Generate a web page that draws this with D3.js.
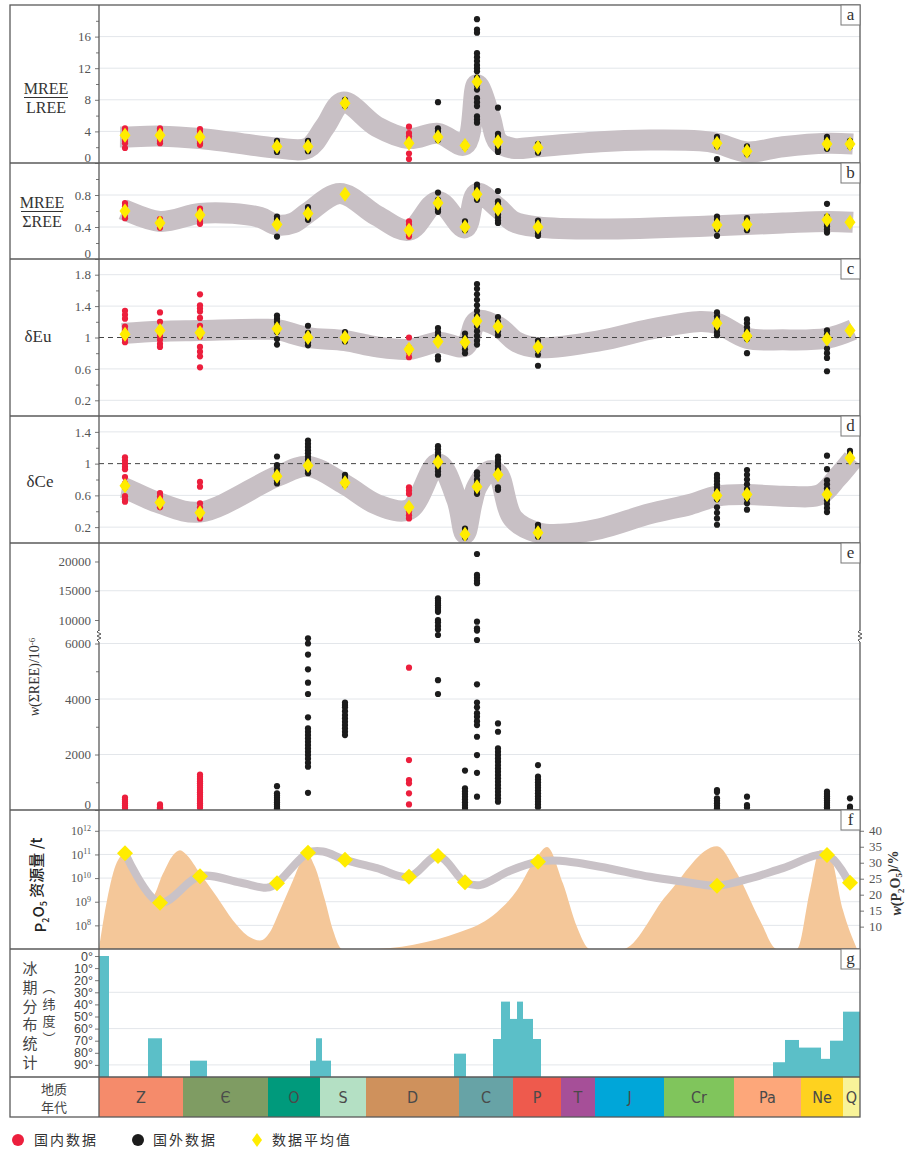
<!DOCTYPE html>
<html lang="zh">
<head>
<meta charset="UTF-8">
<title>REE 特征与磷矿资源演化</title>
<script src="https://cdn.jsdelivr.net/npm/d3@7"></script>
<style>
    html, body { margin: 0; padding: 0; background: #fff; }
    svg { display: block; }
</style>
</head>
<body>
<svg id="chart" width="911" height="1151"></svg>
<script>
// geological periods along the bottom, with their relative widths on the time axis
const periods = ["Z", "Є", "O", "S", "D", "C", "P", "T", "J", "Cr", "Pa", "Ne", "Q"];
const periodSpan = [84, 85, 52, 46, 93, 54, 48, 34, 69, 70, 67, 42, 17];

// sample groups (columns of points) and where they sit on the time axis
const groups = ["Z-1", "Z-2", "Є", "O-1", "O-2", "S", "D-1", "D-2", "C-1", "C-2", "C-3", "P", "Cr", "Pa", "Ne", "Q"];
const groupPos = [26, 61, 101, 178, 209, 246, 310, 339, 366, 378, 399, 439, 618, 648, 728, 751];
const groupSource = ["cn", "cn", "cn", "int", "int", "int", "cn", "int", "int", "int", "int", "int", "int", "int", "int", "int"];

// a: MREE/LREE
const aValues = [
    [4.4, 4.2, 4.0, 3.8, 3.6, 3.4, 3.2, 3.0, 2.8, 2.5, 1.9],
    [4.4, 4.2, 4.0, 3.7, 3.4, 3.1, 2.8, 2.5],
    [4.3, 4.0, 3.7, 3.4, 3.1, 2.8, 2.5, 2.3],
    [2.8, 2.5, 2.2, 1.9, 1.6, 1.4],
    [2.8, 2.5, 2.2, 1.9, 1.6, 1.5],
    [8.0, 7.7, 7.4, 7.2],
    [4.6, 3.8, 3.4, 2.9, 2.5, 1.2, 0.5],
    [7.7, 4.4, 4.0, 3.6, 3.2, 2.9],
    [2.4, 2.0],
    [18.2, 16.9, 16.5, 13.9, 13.4, 12.9, 12.4, 12.0, 11.6, 10.8, 9.8, 9.3, 8.2, 7.7, 7.2, 5.9, 5.5, 5.1],
    [7.0, 3.7, 3.3, 2.9, 2.5, 2.1, 1.7, 1.4],
    [2.4, 2.0, 1.6, 1.3],
    [3.3, 3.0, 2.7, 2.4, 2.1, 0.5],
    [2.1, 1.8, 1.5, 1.1],
    [3.3, 3.0, 2.7, 2.4, 2.1, 1.8],
    [2.8, 2.1]
];
const aMeans = [3.5, 3.5, 3.3, 2.1, 2.1, 7.55, 2.5, 3.3, 2.2, 10.3, 2.7, 1.95, 2.5, 1.5, 2.4, 2.4];
const aBand = [[21, 3.3], [26, 3.3], [61, 3.4], [101, 3.1], [134, 2.6], [178, 1.9], [209, 1.9], [226, 4.6], [244, 7.7],
    [278, 4.6], [310, 3.1], [339, 3.75], [366, 2.3], [378, 9.9], [391, 5.9], [399, 2.7], [414, 1.86], [439, 2.06],
    [501, 2.7], [551, 2.9], [601, 2.8], [618, 2.5], [648, 1.4], [684, 2.06], [728, 2.5], [754, 2.4]];

// b: MREE/ΣREE
const bValues = [
    [0.70, 0.66, 0.62, 0.58, 0.54, 0.51],
    [0.50, 0.46, 0.42, 0.39],
    [0.63, 0.59, 0.55, 0.51, 0.47, 0.44],
    [0.53, 0.50, 0.47, 0.28],
    [0.65, 0.61, 0.57, 0.53, 0.49],
    [],
    [0.47, 0.43, 0.39, 0.35, 0.31, 0.28],
    [0.83, 0.74, 0.70, 0.66, 0.62, 0.59],
    [0.47, 0.43, 0.39, 0.36],
    [0.93, 0.89, 0.85, 0.81, 0.77, 0.74],
    [0.85, 0.72, 0.68, 0.64, 0.60, 0.56, 0.52, 0.48, 0.45],
    [0.48, 0.44, 0.40, 0.36, 0.32, 0.29],
    [0.53, 0.49, 0.45, 0.41, 0.37, 0.29],
    [0.51, 0.47, 0.43, 0.39, 0.36],
    [0.69, 0.53, 0.49, 0.45, 0.41, 0.37, 0.33],
    [0.47, 0.45]
];
const bMeans = [0.60, 0.45, 0.55, 0.43, 0.57, 0.81, 0.36, 0.70, 0.40, 0.81, 0.625, 0.40, 0.425, 0.43, 0.49, 0.46];
const bBand = [[24, 0.62], [26, 0.61], [61, 0.47], [101, 0.57], [134, 0.57], [161, 0.52], [178, 0.425], [194, 0.45],
    [209, 0.58], [241, 0.82], [278, 0.54], [310, 0.36], [339, 0.72], [366, 0.39], [378, 0.82], [399, 0.64],
    [414, 0.47], [439, 0.40], [501, 0.375], [618, 0.415], [684, 0.45], [728, 0.47], [754, 0.46]];

// c: δEu
const cValues = [
    [1.34, 1.29, 1.24, 1.14, 1.09, 1.03, 0.98, 0.94],
    [1.32, 1.20, 1.07, 1.02, 0.97, 0.92, 0.88],
    [1.55, 1.41, 1.37, 1.33, 1.25, 1.15, 1.08, 1.01, 0.88, 0.82, 0.76, 0.62],
    [1.28, 1.24, 1.20, 1.15, 1.11, 1.07, 0.98, 0.91],
    [1.15, 1.06, 1.02, 0.98, 0.94, 0.90],
    [1.07, 1.03, 0.99, 0.95],
    [1.00, 0.87, 0.81, 0.75],
    [1.12, 1.07, 1.03, 0.97, 0.76, 0.72],
    [1.05, 1.00, 0.95, 0.90, 0.85, 0.80],
    [1.68, 1.62, 1.55, 1.48, 1.41, 1.34, 1.28, 1.21, 1.14, 1.08, 1.02, 0.96, 0.91],
    [1.26, 1.20, 1.14, 1.08, 1.03],
    [0.96, 0.90, 0.84, 0.78, 0.64],
    [1.32, 1.27, 1.22, 1.17, 1.12, 1.07, 1.03],
    [1.23, 1.18, 1.13, 1.08, 1.03, 0.98, 0.80],
    [1.09, 1.04, 0.98, 0.86, 0.80, 0.74, 0.57],
    []
];
const cMeans = [1.04, 1.09, 1.06, 1.11, 1.00, 1.00, 0.85, 0.95, 0.94, 1.21, 1.14, 0.88, 1.18, 1.02, 0.98, 1.09];
const cBand = [[23, 1.05], [61, 1.08], [101, 1.09], [161, 1.105], [178, 1.10], [209, 1.0], [246, 0.96], [278, 0.88],
    [310, 0.85], [339, 0.94], [366, 0.89], [378, 1.21], [399, 1.14], [418, 0.94], [439, 0.87], [501, 0.96],
    [551, 1.105], [601, 1.205], [618, 1.18], [648, 0.99], [684, 0.97], [728, 0.99], [754, 1.1]];

// d: δCe
const dValues = [
    [1.08, 1.04, 1.00, 0.96, 0.93, 0.83, 0.75, 0.70, 0.59, 0.55, 0.52],
    [0.63, 0.59, 0.55, 0.51, 0.47, 0.45],
    [0.77, 0.71, 0.50, 0.45, 0.40, 0.36, 0.31],
    [1.09, 0.98, 0.93, 0.88, 0.83, 0.79, 0.75],
    [1.29, 1.25, 1.21, 1.17, 1.13, 1.09, 1.05, 1.01, 0.96, 0.92, 0.88],
    [0.86, 0.82, 0.77, 0.73],
    [0.70, 0.66, 0.62, 0.45, 0.40, 0.35, 0.31],
    [1.22, 1.18, 1.14, 1.10, 1.06, 1.00, 0.94, 0.90, 0.86],
    [0.18, 0.14, 0.10, 0.07],
    [0.89, 0.85, 0.80, 0.75, 0.70, 0.66, 0.62],
    [1.09, 1.05, 1.01, 0.97, 0.93, 0.89, 0.84, 0.70, 0.67],
    [0.23, 0.19, 0.15, 0.11, 0.08],
    [0.86, 0.82, 0.78, 0.74, 0.70, 0.66, 0.62, 0.55, 0.45, 0.38, 0.31, 0.23],
    [0.92, 0.86, 0.80, 0.74, 0.68, 0.62, 0.56, 0.50, 0.42],
    [1.10, 0.93, 0.79, 0.74, 0.69, 0.64, 0.59, 0.54, 0.49, 0.44, 0.39],
    [1.16, 1.12, 1.08]
];
const dMeans = [0.72, 0.51, 0.38, 0.84, 0.975, 0.76, 0.45, 1.02, 0.11, 0.71, 0.86, 0.13, 0.60, 0.61, 0.61, 1.07];
const dBand = [[23, 0.70], [26, 0.69], [61, 0.50], [101, 0.39], [178, 0.84], [209, 0.965], [246, 0.735], [278, 0.485],
    [310, 0.42], [339, 1.0], [358, 0.54], [366, 0.12], [373, 0.5], [378, 0.71], [391, 0.91], [399, 0.87],
    [414, 0.31], [439, 0.13], [461, 0.11], [501, 0.18], [551, 0.37], [591, 0.485], [618, 0.59], [648, 0.61],
    [684, 0.59], [721, 0.61], [738, 0.82], [754, 1.06]];

// e: w(ΣREE)/10^-6
const eValues = [
    [450, 380, 300, 230, 160, 90, 30],
    [200, 150, 100, 60, 25],
    [1280, 1200, 1120, 1040, 960, 880, 800, 720, 640, 560, 480, 400, 320, 240, 160, 80],
    [860, 600, 520, 440, 360, 280, 200, 120, 60],
    [6880, 6000, 5600, 5070, 4590, 4180, 3340, 2940, 2820, 2700, 2580, 2460, 2340, 2220, 2100, 1980, 1850, 1700, 1560, 620],
    [3870, 3780, 3700, 3560, 3420, 3300, 3180, 3060, 2940, 2820, 2700],
    [5130, 1800, 1080, 960, 600, 200],
    [13700, 13300, 12900, 12500, 12100, 11700, 11400, 10000, 9600, 9000, 8400, 7450, 4680, 4180],
    [1420, 780, 680, 580, 480, 380, 280, 180, 80, 20],
    [21280, 17700, 17200, 16700, 16300, 9710, 8590, 8200, 6600, 4530, 3870, 3700, 3490, 3360, 3200, 3060, 2640, 1980, 1340, 480],
    [3120, 2820, 2220, 2100, 1980, 1860, 1740, 1620, 1500, 1380, 1260, 1140, 1020, 900, 780, 660, 540, 420, 300],
    [1620, 1200, 1100, 1000, 900, 800, 700, 600, 500, 400, 300, 200, 100],
    [720, 650, 420, 330, 240, 150, 60],
    [480, 180, 90],
    [660, 580, 500, 420, 340, 260, 180, 100, 30],
    [420, 120, 40]
];
const eTicks = [0, 2000, 4000, 6000, 10000, 15000, 20000];

// f: P2O5 resource (log10 t, shaded) and mean grade w(P2O5)/% (line + diamonds)
const fResourceLog = [[0, 7.0], [8, 9.06], [18, 10.68], [24, 10.97], [34, 10.47], [44, 9.62], [53, 9.2], [64, 10.19],
    [74, 10.97], [81, 11.18], [88, 10.97], [101, 10.2], [118, 9.2], [134, 8.21], [151, 7.5], [161, 7.36], [171, 7.72],
    [181, 8.64], [194, 9.91], [204, 10.83], [209, 10.97], [216, 10.47], [226, 9.06], [234, 7.79], [243, 7.0],
    [268, 7.0], [361, 7.72], [394, 8.42], [418, 9.48], [438, 10.9], [448, 11.32], [464, 9.77], [478, 7.93], [491, 7.0],
    [523, 7.0], [568, 9.3], [618, 11.35], [638, 10.2], [661, 8.21], [678, 7.0], [698, 7.0], [711, 9.48], [721, 11.18],
    [731, 10.97], [744, 8.64], [758, 7.0]];
const fGroups = ["Z-1", "Z-2", "Є", "O-1", "O-2", "S", "D-1", "D-2", "C-1", "P", "Cr", "Ne", "Q"];
const fGrade = [33.0, 17.5, 25.8, 23.6, 33.1, 30.9, 25.6, 32.1, 23.9, 30.3, 22.8, 32.4, 23.75];
const fGradeLine = [[26, 33.0], [61, 17.5], [101, 25.8], [141, 23.8], [168, 22.2], [178, 23.6], [209, 33.1], [224, 33.5],
    [246, 30.9], [278, 28.3], [310, 25.6], [339, 32.1], [366, 23.9], [381, 23.0], [411, 27.5], [439, 30.3],
    [461, 30.6], [501, 28.75], [551, 25.6], [584, 24.1], [618, 22.8], [651, 25.1], [684, 28.3], [728, 32.4], [750, 23.75]];

// g: glaciation latitude histogram [from, to, latitude°]
const glacialBins = [[0, 10, 0], [49, 63, 68], [91, 108, 86.5], [211, 217, 86.5], [217, 223, 68], [223, 232, 86.5],
    [355, 367, 80.7], [394, 402, 68.6], [402, 411, 37.7], [411, 418, 52], [418, 424, 37.7], [424, 434, 52],
    [434, 442, 68.6], [674, 686, 87.8], [686, 700, 69.4], [700, 722, 75.7], [722, 731, 85], [731, 744, 70], [744, 761, 46]];
const latTicks = [0, 10, 20, 30, 40, 50, 60, 70, 80, 90];

const periodColor = {
    "Z": "#f58b6b", "Є": "#7f9c63", "O": "#009a7c", "S": "#b4e0c4", "D": "#cf915c", "C": "#67a3a6", "P": "#ee5a4d",
    "T": "#a64f98", "J": "#00a6d9", "Cr": "#80c55c", "Pa": "#fda77a", "Ne": "#fed21f", "Q": "#f8f399"
};

const svg = d3.select("#chart");
const defs = svg.append("defs");
const L = 10, R = 860, AX = 99;
const x = d3.scaleLinear().domain([0, d3.sum(periodSpan)]).range([AX, R]);

const serif = '"Liberation Serif", "DejaVu Serif", serif';
const sans = '"Liberation Sans", Arial, sans-serif';
const cjk = '"Noto Sans CJK SC", sans-serif';
const sourceColor = { cn: "#ec1f3d", int: "#1c1c1c" };
const yellow = "#ffec00";
const bandColor = "#c8c0c5";
const gridColor = "#e3e6ea";

function diamond(w, h) {
    return `M0,${-h}L${w},0L0,${h}L${-w},0Z`;
}

function clipFor(key, top, bottom) {
    defs.append("clipPath").attr("id", "clip-" + key).append("rect")
        .attr("x", AX).attr("y", top).attr("width", R - AX).attr("height", bottom - top);
    return `url(#clip-${key})`;
}

function styleAxis(ax, font, size) {
    ax.select(".domain").remove();
    ax.attr("font-family", font).attr("font-size", size).attr("color", "#555");
    ax.selectAll("line").attr("stroke", "#777");
}

function gridLines(g, y, vals) {
    g.selectAll(null).data(vals).join("line")
        .attr("x1", AX).attr("x2", R)
        .attr("y1", d => y(d)).attr("y2", d => y(d))
        .attr("stroke", gridColor).attr("stroke-width", 1);
}

function drawPoints(g, y, values) {
    values.forEach((vals, i) => {
        g.selectAll(null).data(vals).join("circle")
            .attr("cx", x(groupPos[i]))
            .attr("cy", d => y(d))
            .attr("r", 3.1)
            .attr("fill", sourceColor[groupSource[i]]);
    });
}

// ---------- panels a-d
const ratioPanels = [
    { key: "a", top: 5, bottom: 163, domain: [0, 20], ticks: [0, 4, 8, 12, 16], minor: [2, 6, 10, 14, 18], grid: [4, 8, 12, 16], values: aValues, means: aMeans, band: aBand, ref: null },
    { key: "b", top: 163, bottom: 259, domain: [0, 1.2], ticks: [0, 0.4, 0.8], minor: [0.2, 0.6, 1.0], grid: [0.4, 0.8], values: bValues, means: bMeans, band: bBand, ref: null },
    { key: "c", top: 259, bottom: 416, domain: [0, 2], ticks: [0.2, 0.6, 1, 1.4, 1.8], minor: [0.4, 0.8, 1.2, 1.6], grid: [0.2, 0.6, 1.4, 1.8], values: cValues, means: cMeans, band: cBand, ref: 1 },
    { key: "d", top: 416, bottom: 543, domain: [0, 1.6], ticks: [0.2, 0.6, 1, 1.4], minor: [0.4, 0.8, 1.2], grid: [0.2, 0.6, 1.4], values: dValues, means: dMeans, band: dBand, ref: 1 }
];

ratioPanels.forEach(p => {
    const y = d3.scaleLinear().domain(p.domain).range([p.bottom, p.top]);
    const g = svg.append("g");
    const inner = g.append("g").attr("clip-path", clipFor(p.key, p.top, p.bottom));

    gridLines(inner, y, p.grid);

    const bandLine = d3.line()
        .x(d => x(d[0]))
        .y(d => y(d[1]))
        .curve(d3.curveCatmullRom.alpha(0.5));
    inner.append("path")
        .attr("d", bandLine(p.band))
        .attr("fill", "none")
        .attr("stroke", bandColor)
        .attr("stroke-width", 21);

    if (p.ref !== null) {
        inner.append("line")
            .attr("x1", AX).attr("x2", R)
            .attr("y1", y(p.ref)).attr("y2", y(p.ref))
            .attr("stroke", "#444").attr("stroke-width", 1)
            .attr("stroke-dasharray", "5,4");
    }

    drawPoints(inner, y, p.values);

    inner.selectAll(null).data(p.means).join("path")
        .attr("d", diamond(5.5, 7.5))
        .attr("transform", (d, i) => `translate(${x(groupPos[i])},${y(d)})`)
        .attr("fill", yellow);

    const ax = g.append("g").attr("transform", `translate(${AX},0)`)
        .call(d3.axisLeft(y).tickValues(p.ticks).tickSize(4).tickPadding(4).tickFormat(d3.format("")));
    styleAxis(ax, serif, 13);
    ax.selectAll(".tick").filter(d => d === p.domain[0]).select("text").attr("dy", "-0.12em");

    const mx = g.append("g").attr("transform", `translate(${AX},0)`)
        .call(d3.axisLeft(y).tickValues(p.minor).tickSize(3).tickFormat(""));
    styleAxis(mx, serif, 13);
});

// ---------- panel e (broken axis)
const eTop = 543, eBottom = 810;
const yE = d3.scaleLinear().domain([0, 6000, 10000, 23160]).range([eBottom, 643.5, 620, eTop]);
{
    const g = svg.append("g");
    const inner = g.append("g").attr("clip-path", clipFor("e", eTop, eBottom));
    gridLines(inner, yE, [2000, 4000, 6000, 15000]);
    drawPoints(inner, yE, eValues);

    const ax = g.append("g").attr("transform", `translate(${AX},0)`)
        .call(d3.axisLeft(yE).tickValues(eTicks).tickSize(4).tickPadding(4).tickFormat(d3.format("")));
    styleAxis(ax, serif, 13);
    ax.selectAll(".tick").filter(d => d === 0).select("text").attr("dy", "-0.12em");
    const mx = g.append("g").attr("transform", `translate(${AX},0)`)
        .call(d3.axisLeft(yE).tickValues([1000, 3000, 5000]).tickSize(3).tickFormat(""));
    styleAxis(mx, serif, 13);
}

// ---------- panel f
const fTop = 810, fBottom = 949;
const yFL = d3.scaleLog().domain([1e7, Math.pow(10, 12.88)]).range([fBottom, fTop]);
const yFR = d3.scaleLinear().domain([3, 46.5]).range([fBottom, fTop]);
{
    const g = svg.append("g");
    const inner = g.append("g").attr("clip-path", clipFor("f", fTop, fBottom));
    gridLines(inner, yFL, [1e8, 1e9, 1e10, 1e11, 1e12]);

    inner.append("path")
        .attr("d", d3.area()
            .x(d => x(d[0]))
            .y0(fBottom)
            .y1(d => yFL(Math.pow(10, d[1])))
            .curve(d3.curveMonotoneX)(fResourceLog))
        .attr("fill", "#f4c799");

    inner.append("path")
        .attr("d", d3.line()
            .x(d => x(d[0]))
            .y(d => yFR(d[1]))
            .curve(d3.curveCatmullRom.alpha(0.5))(fGradeLine))
        .attr("fill", "none")
        .attr("stroke", "#c9c2c7")
        .attr("stroke-width", 8)
        .attr("stroke-linecap", "round");

    inner.selectAll(null).data(fGrade).join("path")
        .attr("d", diamond(8, 8))
        .attr("transform", (d, i) => `translate(${x(groupPos[groups.indexOf(fGroups[i])])},${yFR(d)})`)
        .attr("fill", yellow);

    const ax = g.append("g").attr("transform", `translate(${AX},0)`)
        .call(d3.axisLeft(yFL).tickValues([1e8, 1e9, 1e10, 1e11, 1e12]).tickSize(4).tickPadding(4).tickFormat(() => ""));
    styleAxis(ax, serif, 12);
    ax.selectAll(".tick text").each(function (d) {
        const t = d3.select(this);
        t.append("tspan").text("10");
        t.append("tspan").attr("dy", "-0.55em").attr("font-size", 8).text(Math.round(Math.log10(d)));
    });

    const rx = g.append("g").attr("transform", `translate(${R},0)`)
        .call(d3.axisRight(yFR).tickValues([10, 15, 20, 25, 30, 35, 40]).tickSize(4).tickPadding(5).tickFormat(d3.format("")));
    styleAxis(rx, serif, 13);
}

// ---------- panel g
const gTop = 949, gBottom = 1077;
const yG = d3.scaleLinear().domain([0, 100]).range([956, gBottom]);
{
    const g = svg.append("g");
    const inner = g.append("g").attr("clip-path", clipFor("g", gTop, gBottom));
    gridLines(inner, yG, [30, 60, 90]);
    inner.selectAll(null).data(glacialBins).join("rect")
        .attr("x", d => x(d[0]))
        .attr("width", d => x(d[1]) - x(d[0]))
        .attr("y", d => yG(d[2]))
        .attr("height", d => yG(100) - yG(d[2]))
        .attr("fill", "#5bbfc8");

    const ax = g.append("g").attr("transform", `translate(${AX},0)`)
        .call(d3.axisLeft(yG).tickValues(latTicks).tickSize(4).tickPadding(2).tickFormat(d => d + "°"));
    styleAxis(ax, sans, 12.5);
    ax.selectAll("text").attr("fill", "#444");
}

// ---------- geological time bar
const geoTop = 1077, geoBottom = 1117;
{
    let acc = 0;
    const cells = periods.map((p, i) => {
        const c = { name: p, start: acc, end: acc + periodSpan[i] };
        acc += periodSpan[i];
        return c;
    });
    const g = svg.append("g");
    g.selectAll(null).data(cells).join("rect")
        .attr("x", d => x(d.start))
        .attr("width", d => x(d.end) - x(d.start))
        .attr("y", geoTop)
        .attr("height", geoBottom - geoTop)
        .attr("fill", d => periodColor[d.name]);
    g.selectAll(null).data(cells).join("text")
        .attr("x", d => x((d.start + d.end) / 2))
        .attr("y", (geoTop + geoBottom) / 2 + 6)
        .attr("text-anchor", "middle")
        .attr("font-family", '"DejaVu Sans Condensed", "Liberation Sans Narrow", "DejaVu Sans", sans-serif')
        .attr("font-stretch", "condensed")
        .attr("font-size", 16)
        .attr("fill", "#4a4a4a")
        .text(d => d.name);

    g.append("text").attr("x", 54).attr("y", 1094).attr("text-anchor", "middle")
        .attr("font-family", cjk).attr("font-size", 13).attr("fill", "#444").text("地质");
    g.append("text").attr("x", 54).attr("y", 1112).attr("text-anchor", "middle")
        .attr("font-family", cjk).attr("font-size", 13).attr("fill", "#444").text("年代");
}

// ---------- frame lines
const frame = svg.append("g").attr("fill", "none").attr("stroke", "#5a5a5a").attr("stroke-width", 1.3);
frame.append("rect").attr("x", L).attr("y", 5).attr("width", R - L).attr("height", geoBottom - 5);
[163, 259, 416, 543, 810, 949, 1077].forEach(yy => {
    frame.append("line").attr("x1", L).attr("x2", R).attr("y1", yy).attr("y2", yy);
});
frame.append("line").attr("x1", AX).attr("x2", AX).attr("y1", 5).attr("y2", geoBottom);

// break marks on the e axes
[AX, R].forEach(bx => {
    svg.append("rect").attr("x", bx - 2).attr("y", 631).attr("width", 4).attr("height", 11).attr("fill", "#fff");
    svg.append("path")
        .attr("d", `M${bx},630 l-2,2 l4,2 l-4,2 l4,2 l-4,2 l2,2`)
        .attr("fill", "none").attr("stroke", "#555").attr("stroke-width", 1);
});

// panel letters
[["a", 5], ["b", 163], ["c", 259], ["d", 416], ["e", 543], ["f", 810], ["g", 949]].forEach(([k, top]) => {
    svg.append("rect").attr("x", 841).attr("y", top).attr("width", R - 841).attr("height", 20)
        .attr("fill", "#fff").attr("stroke", "#777").attr("stroke-width", 1);
    svg.append("text").attr("x", 850.5).attr("y", top + 15).attr("text-anchor", "middle")
        .attr("font-family", serif).attr("font-size", 17).attr("fill", "#333").text(k);
});

// ---------- y titles
function fraction(cx, yTop, yLine, yBot, topText, botText, x1, x2) {
    svg.append("text").attr("x", cx).attr("y", yTop).attr("text-anchor", "middle")
        .attr("font-family", serif).attr("font-size", 16).attr("fill", "#333").text(topText);
    svg.append("line").attr("x1", x1).attr("x2", x2).attr("y1", yLine).attr("y2", yLine)
        .attr("stroke", "#333").attr("stroke-width", 1.2);
    svg.append("text").attr("x", cx).attr("y", yBot).attr("text-anchor", "middle")
        .attr("font-family", serif).attr("font-size", 16).attr("fill", "#333").text(botText);
}
fraction(46, 94, 97.5, 113, "MREE", "LREE", 24, 68);
fraction(42, 208, 211.5, 227, "MREE", "ΣREE", 21, 63);

svg.append("text").attr("x", 38).attr("y", 342).attr("text-anchor", "middle")
    .attr("font-family", serif).attr("font-size", 17).attr("fill", "#333").text("δEu");
svg.append("text").attr("x", 40).attr("y", 487).attr("text-anchor", "middle")
    .attr("font-family", serif).attr("font-size", 17).attr("fill", "#333").text("δCe");

{
    const t = svg.append("text").attr("transform", "translate(39,677) rotate(-90)").attr("text-anchor", "middle")
        .attr("font-family", serif).attr("font-size", 14).attr("fill", "#333");
    t.append("tspan").attr("font-style", "italic").text("w");
    t.append("tspan").text("(ΣREE)/10");
    t.append("tspan").attr("dy", "-0.5em").attr("font-size", 9).text("-6");
}
{
    const t = svg.append("text").attr("transform", "translate(46,885) rotate(-90)").attr("text-anchor", "middle")
        .attr("font-family", cjk).attr("font-size", 15).attr("font-weight", 500).attr("fill", "#222");
    t.append("tspan").text("P");
    t.append("tspan").attr("dy", "0.3em").attr("font-size", 9).text("2");
    t.append("tspan").attr("dy", "-0.3em").text("O");
    t.append("tspan").attr("dy", "0.3em").attr("font-size", 9).text("5");
    t.append("tspan").attr("dy", "-0.3em").text(" 资源量 /t");
}
{
    const t = svg.append("text").attr("transform", "translate(901,883) rotate(-90)").attr("text-anchor", "middle")
        .attr("font-family", serif).attr("font-size", 14).attr("font-weight", "bold").attr("fill", "#333");
    t.append("tspan").attr("font-style", "italic").text("w");
    t.append("tspan").text("(P");
    t.append("tspan").attr("dy", "0.3em").attr("font-size", 9).text("2");
    t.append("tspan").attr("dy", "-0.3em").text("O");
    t.append("tspan").attr("dy", "0.3em").attr("font-size", 9).text("5");
    t.append("tspan").attr("dy", "-0.3em").text(")/%");
}

// glaciation title, written vertically
const glacialTitle = ["冰", "期", "分", "布", "统", "计"];
svg.selectAll(null).data(glacialTitle).join("text")
    .attr("x", 30).attr("y", (d, i) => 974 + i * 18.8)
    .attr("text-anchor", "middle").attr("font-family", cjk).attr("font-size", 15).attr("fill", "#444")
    .text(d => d);
const latTitle = ["︵", "纬", "度", "︶"];
svg.selectAll(null).data(latTitle).join("text")
    .attr("x", 49).attr("y", (d, i) => 992 + i * 17)
    .attr("text-anchor", "middle").attr("font-family", cjk).attr("font-size", 13).attr("fill", "#444")
    .text(d => d);

// ---------- legend
const legend = svg.append("g").attr("font-family", cjk).attr("font-size", 14).attr("fill", "#333");
legend.append("circle").attr("cx", 18).attr("cy", 1140).attr("r", 6).attr("fill", sourceColor.cn);
legend.append("text").attr("x", 34).attr("y", 1145).attr("letter-spacing", 2).text("国内数据");
legend.append("circle").attr("cx", 138).attr("cy", 1140).attr("r", 6).attr("fill", sourceColor.int);
legend.append("text").attr("x", 153).attr("y", 1145).attr("letter-spacing", 2).text("国外数据");
legend.append("path").attr("d", diamond(5, 7)).attr("transform", "translate(257,1140)").attr("fill", yellow);
legend.append("text").attr("x", 272).attr("y", 1145).attr("letter-spacing", 2).text("数据平均值");
</script>
</body>
</html>
